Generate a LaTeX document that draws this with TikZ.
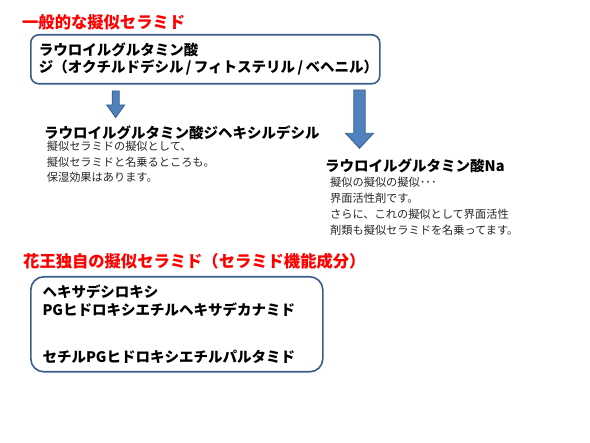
\documentclass[tikz,border=0pt]{standalone}
\usepackage{fontspec}
\setmainfont{Noto Sans CJK JP}
\usetikzlibrary{positioning}

\definecolor{titlered}{RGB}{255,0,0}
\definecolor{boxblue}{RGB}{56,93,138}
\definecolor{arrowfill}{RGB}{79,129,189}

\begin{document}
\begin{tikzpicture}[
    x=1pt, y=-1pt,
    heading/.style={anchor=west, inner sep=0pt, text=titlered, font=\bfseries\fontsize{16.3}{19}\selectfont},
    namebox/.style={draw=boxblue, line width=1.6pt, anchor=north west, align=left},
    chemname/.style={anchor=west, inner sep=0pt, font=\bfseries\fontsize{14.5}{17}\selectfont},
    chemnote/.style={anchor=west, inner sep=0pt, align=left, text=black!85},
    blockarrow/.style={fill=arrowfill, draw=boxblue, line width=0.8pt, line join=miter}
]
    \useasboundingbox (0,0) rectangle (590,443);

    % general pseudo-ceramides
    \node[heading] (generaltitle) at (22,22.7) {一般的な擬似セラミド};
    \node[namebox, rounded corners=8pt, inner xsep=8pt, minimum width=349pt, minimum height=49pt, text width=333pt,
          font=\bfseries\fontsize{14.5}{16.7}\selectfont] (generalbox) at (30,34)
        {ラウロイルグルタミン酸\\ジ（オクチルドデシル\,/\,フィトステリル\,/\,ベヘニル）};

    \draw[blockarrow] (112.2,91) -- (119.2,91) -- (119.2,105) -- (124.7,105) -- (115.7,117.5)
        -- (106.7,105) -- (112.2,105) -- cycle;
    \draw[blockarrow] (353.8,90) -- (365.2,90) -- (365.2,133.3) -- (373.5,133.3) -- (359.5,148.3)
        -- (345.5,133.3) -- (353.8,133.3) -- cycle;

    \node[chemname] (dihexyl) at (44,132.7) {ラウロイルグルタミン酸ジヘキシルデシル};
    \node[chemnote, font=\fontsize{11.2}{15.3}\selectfont] (dihexylnote) at (46.7,162)
        {擬似セラミドの擬似として、\\擬似セラミドと名乗るところも。\\保湿効果はあります。};

    \node[chemname] (sodium) at (325,166) {ラウロイルグルタミン酸Na};
    \node[chemnote, font=\fontsize{11.2}{16.1}\selectfont] (sodiumnote) at (330,206)
        {擬似の擬似の擬似･･･\\界面活性剤です。\\さらに、これの擬似として界面活性\\剤類も擬似セラミドを名乗ってます。};

    % Kao's own pseudo-ceramides
    \node[heading] (kaotitle) at (23,261.7) {花王独自の擬似セラミド（セラミド機能成分）};
    \node[namebox, rounded corners=13pt, inner xsep=11.7pt, minimum width=292pt, minimum height=95pt, text width=268.6pt,
          font=\bfseries\fontsize{14.5}{18.3}\selectfont] (kaobox) at (30,276)
        {ヘキサデシロキシ\\PGヒドロキシエチルヘキサデカナミド\\[28.4pt]セチルPGヒドロキシエチルパルタミド};
\end{tikzpicture}
\end{document}
